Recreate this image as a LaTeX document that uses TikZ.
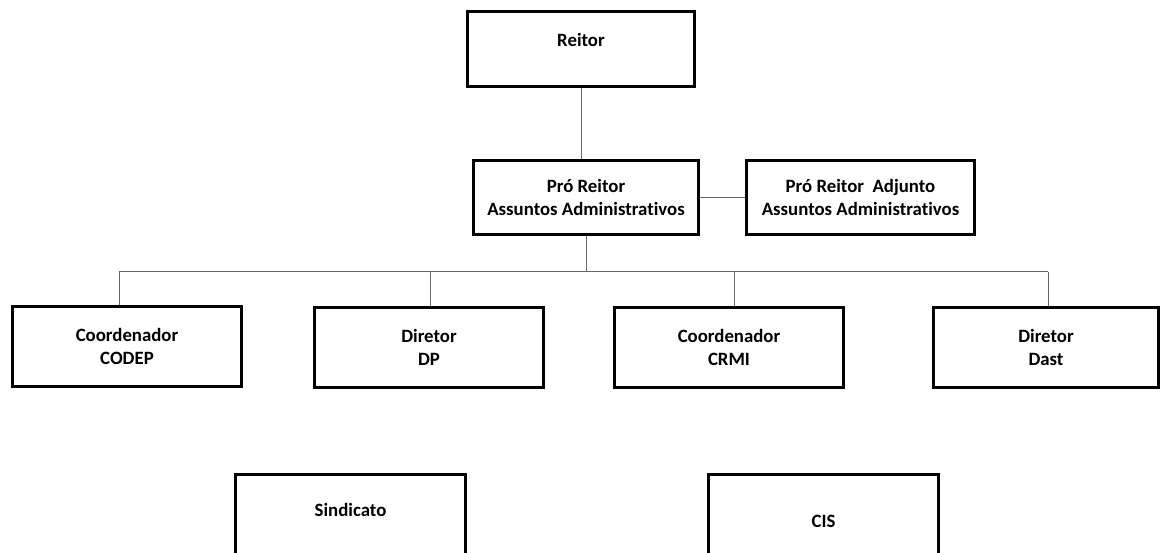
\documentclass[tikz,border=0pt]{standalone}
\usepackage{fontspec}
\setmainfont{Carlito}[Ligatures=NoCommon]
\begin{document}
\begin{tikzpicture}[x=0.02cm,y=-0.02cm]
\useasboundingbox (0,0) rectangle (1161,553);
\clip (0,0) rectangle (1161,553);
\tikzstyle{every node}=[draw,shape=rectangle,line width=0.06cm,align=center,font=\fontsize{10.7}{13}\selectfont\bfseries];
\node[minimum width=4.54cm,minimum height=1.5cm,text depth=0.36cm] (reitor) at (581,49) {Reitor};
\node[minimum width=4.5cm,minimum height=1.48cm] (pro) at (586,197.5) {Pró Reitor\\Assuntos Administrativos};
\node[minimum width=4.56cm,minimum height=1.48cm] (adj) at (860.5,197.5) {Pró Reitor~ Adjunto\\Assuntos Administrativos};
\node[minimum width=4.58cm,minimum height=1.6cm] (codep) at (127,346.5) {Coordenador\\CODEP};
\node[minimum width=4.58cm,minimum height=1.6cm] (dp) at (429,347.5) {Diretor\\DP};
\node[minimum width=4.58cm,minimum height=1.6cm] (crmi) at (729,347.5) {Coordenador\\CRMI};
\node[minimum width=4.5cm,minimum height=1.6cm] (dast) at (1046,347.5) {Diretor\\Dast};
\node[minimum width=4.6cm,minimum height=2.1cm,text depth=0.68cm] (sind) at (350.5,527) {Sindicato};
\node[minimum width=4.6cm,minimum height=1.86cm] (cis) at (823.5,521) {CIS};
\tikzstyle{every node}=[];
\coordinate (b1) at (119,272);
\coordinate (b2) at (430,272);
\coordinate (b3) at (734,272);
\coordinate (b4) at (1048,272);
\draw [line width=0.02cm,black!60] (reitor.south) -- (reitor.south |- pro.north);
\draw [line width=0.02cm,black!60] (pro.east) -- (adj.west);
\draw [line width=0.02cm,black!60] (pro.south) -- (pro.south |- b1);
\draw [line width=0.02cm,black!60] (b1) -- (b4);
\draw [line width=0.02cm,black!60] (b1) -- (b1 |- codep.north);
\draw [line width=0.02cm,black!60] (b2) -- (b2 |- dp.north);
\draw [line width=0.02cm,black!60] (b3) -- (b3 |- crmi.north);
\draw [line width=0.02cm,black!60] (b4) -- (b4 |- dast.north);
\end{tikzpicture}
\end{document}
